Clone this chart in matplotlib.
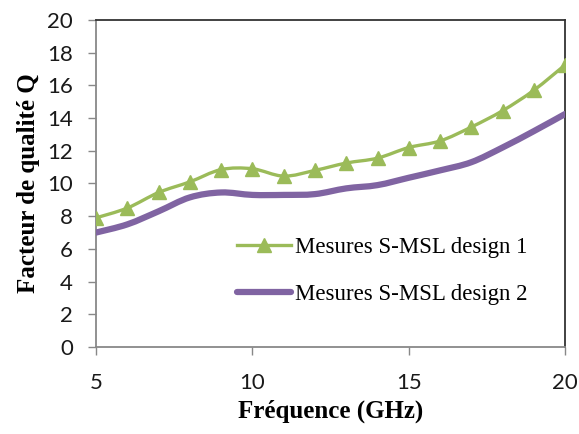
"""Facteur de qualité Q des deux designs S-MSL mesurés."""

import matplotlib

matplotlib.use("Agg")

import matplotlib.pyplot as plt
import numpy as np
from matplotlib.lines import Line2D
from matplotlib.patches import PathPatch
from matplotlib.path import Path


freq_ghz = [5, 6, 7, 8, 9, 10, 11, 12, 13, 14, 15, 16, 17, 18, 19, 20]
q_design1 = [7.9, 8.5, 9.45, 10.1, 10.85, 10.9, 10.45, 10.8, 11.25, 11.55, 12.2, 12.6, 13.45, 14.45, 15.7, 17.25]
q_design2 = [7.0, 7.5, 8.3, 9.15, 9.45, 9.3, 9.3, 9.35, 9.7, 9.9, 10.35, 10.8, 11.3, 12.2, 13.2, 14.25]
labels = ["Mesures S-MSL design 1", "Mesures S-MSL design 2"]

GREEN = "#9bbb59"
PURPLE = "#8064a2"


def smooth_path(x, y):
    # Excel-like smoothed line: cubic Bezier segments through every point
    pts = np.column_stack([x, y]).astype(float)
    n = len(pts)
    verts = [pts[0]]
    codes = [Path.MOVETO]
    for i in range(n - 1):
        p0 = pts[max(i - 1, 0)]
        p1 = pts[i]
        p2 = pts[i + 1]
        p3 = pts[min(i + 2, n - 1)]
        verts += [p1 + (p2 - p0) / 6, p2 - (p3 - p1) / 6, p2]
        codes += [Path.CURVE4] * 3
    return Path(verts, codes)


fig = plt.figure(figsize=(5.79, 4.34), dpi=100)
ax = fig.add_axes([0.166, 0.2005, 0.81, 0.7535])

ax.add_patch(PathPatch(smooth_path(freq_ghz, q_design1), facecolor="none", edgecolor=GREEN, lw=2.4, zorder=3))
ax.plot(freq_ghz, q_design1, ls="none", marker="^", ms=10.5, color=GREEN, zorder=4)
ax.add_patch(PathPatch(smooth_path(freq_ghz, q_design2), facecolor="none", edgecolor=PURPLE, lw=4.5,
                       capstyle="round", zorder=3))

ax.set_xlim(5, 20)
ax.set_ylim(0, 20)
ax.set_xticks([5, 10, 15, 20])
ax.set_yticks(range(0, 21, 2))
ax.tick_params(direction="out", length=5.8, width=1, color="#888888", labelsize=16)
ax.tick_params(axis="y", pad=11)
ax.tick_params(axis="x", pad=13)
for lab in ax.get_xticklabels() + ax.get_yticklabels():
    lab.set_family("Lato")
    lab.set_color("#1a1a1a")
for side in ("left", "bottom"):
    ax.spines[side].set_color("#888888")
    ax.spines[side].set_linewidth(1.3)
for side in ("top", "right"):
    ax.spines[side].set_color("#333333")
    ax.spines[side].set_linewidth(1.3)

ax.set_xlabel("Fréquence (GHz)", family="Liberation Serif", weight="bold", fontsize=18, labelpad=5)
ax.set_ylabel("Facteur de qualité Q", family="Liberation Serif", weight="bold", fontsize=18)
ax.yaxis.set_label_coords(-0.12, 0.5)

handles = [
    Line2D([], [], color=GREEN, lw=2.4, marker="^", ms=10.5),
    Line2D([], [], color=PURPLE, lw=4.5, solid_capstyle="round"),
]
ax.legend(handles, labels, loc="upper left", bbox_to_anchor=(0.3, 0.335), frameon=False,
          prop={"family": "Liberation Serif", "size": 16.5}, handlelength=2.36, handletextpad=0.17,
          labelspacing=1.1, borderaxespad=0, borderpad=0)

fig.savefig("out.png", dpi=100)
